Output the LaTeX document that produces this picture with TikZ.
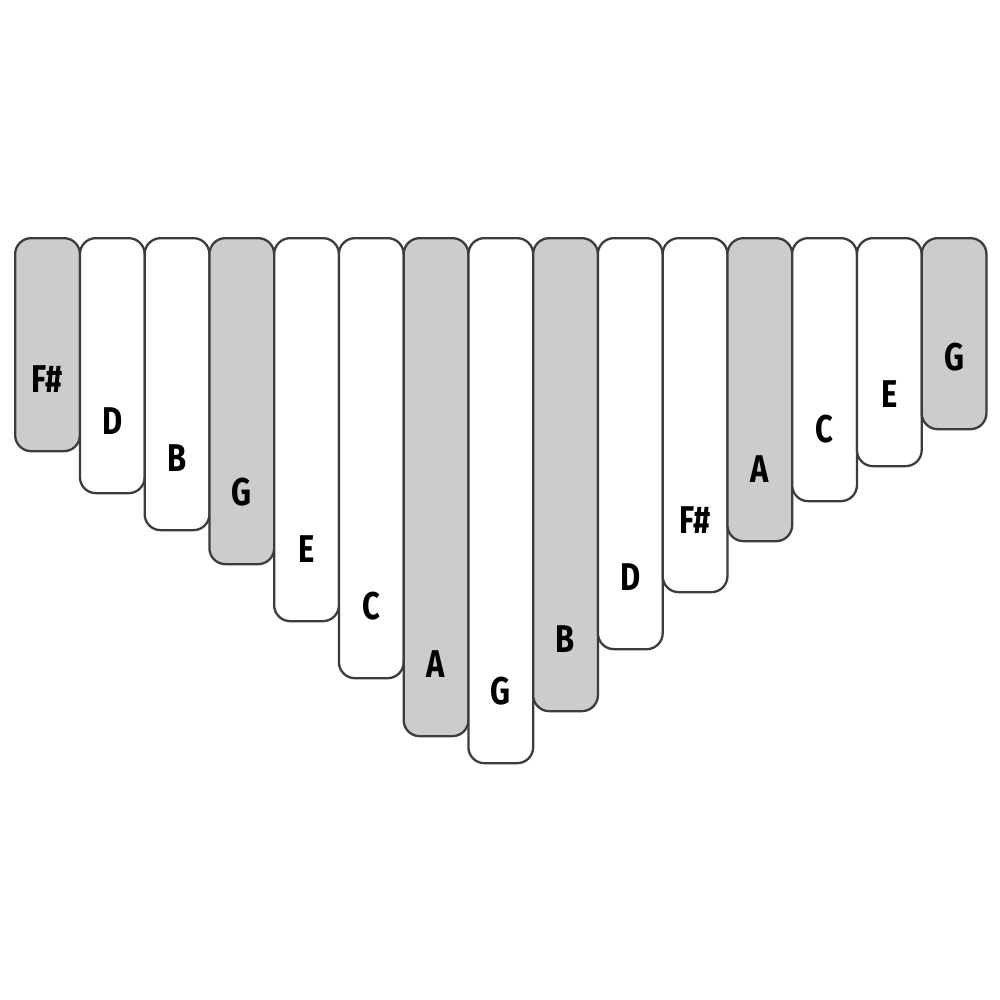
\documentclass[tikz,border=0pt]{standalone}
\usepackage{fontspec}
\setmainfont{Fira Sans}
\definecolor{keygray}{HTML}{CCCCCC}
\definecolor{edge}{HTML}{3C3C3C}
\begin{document}
\begin{tikzpicture}[x=0.01cm,y=-0.01cm,
  keybox/.style={draw=edge, line width=0.65pt, rounded corners=0.16cm, rectangle, inner sep=0pt, minimum width=0.6475cm, anchor=north west},
  notelabel/.style={font=\fontsize{11}{12}\selectfont\bfseries, text=black, inner sep=0pt}]
\useasboundingbox (0,0) rectangle (1000,1000);
\fill[white] (0,0) rectangle (1000,1000);
\foreach \i/\b/\n/\c in {1/450/F\#/keygray, 2/492/D/white, 3/529/B/white, 4/563/G/keygray, 5/620/E/white, 6/677/C/white, 7/735/A/keygray, 8/762/G/white, 9/710/B/keygray, 10/648/D/white, 11/591/F\#/white, 12/540/A/keygray, 13/500/C/white, 14/465/E/white, 15/428/G/keygray}{
  \pgfmathsetmacro{\xx}{14+(\i-1)*64.75}
  \pgfmathsetmacro{\hh}{(\b-237)*0.01}
  \node[keybox, fill=\c, minimum height=\hh cm] (k\i) at (\xx,237) {};
  \node[notelabel] (t\i) at ([yshift=0.73cm]k\i.south) {\scalebox{0.8}[1]{\n}};
}
\end{tikzpicture}
\end{document}
